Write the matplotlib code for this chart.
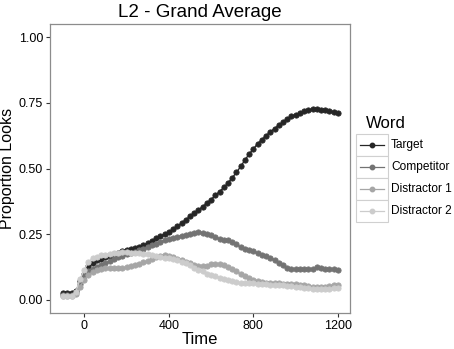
import matplotlib
matplotlib.use('Agg')
import matplotlib.pyplot as plt
from matplotlib.lines import Line2D
from matplotlib.patches import Rectangle

plt.rcParams['font.family'] = ['Liberation Sans', 'DejaVu Sans']

time = list(range(-100, 1201, 20))

target = [0.028, 0.028, 0.028, 0.032, 0.070, 0.100, 0.128, 0.140, 0.150, 0.156,
          0.162, 0.168, 0.174, 0.180, 0.186, 0.190, 0.195, 0.198, 0.202, 0.208,
          0.215, 0.225, 0.235, 0.242, 0.250, 0.258, 0.268, 0.280, 0.292, 0.305,
          0.318, 0.330, 0.342, 0.355, 0.368, 0.382, 0.398, 0.412, 0.428, 0.445,
          0.465, 0.485, 0.508, 0.532, 0.555, 0.575, 0.594, 0.610, 0.625, 0.640,
          0.652, 0.665, 0.677, 0.688, 0.698, 0.705, 0.712, 0.717, 0.722, 0.726,
          0.727, 0.724, 0.721, 0.718, 0.715, 0.712]

competitor = [0.020, 0.020, 0.020, 0.030, 0.060, 0.090, 0.108, 0.118, 0.126, 0.133,
              0.140, 0.147, 0.155, 0.162, 0.168, 0.173, 0.178, 0.183, 0.188, 0.194,
              0.200, 0.207, 0.214, 0.220, 0.227, 0.233, 0.237, 0.241, 0.244, 0.248,
              0.252, 0.256, 0.258, 0.256, 0.250, 0.245, 0.238, 0.232, 0.228, 0.226,
              0.222, 0.212, 0.200, 0.195, 0.190, 0.185, 0.178, 0.172, 0.167, 0.160,
              0.152, 0.142, 0.132, 0.122, 0.118, 0.117, 0.117, 0.117, 0.117, 0.118,
              0.124, 0.121, 0.119, 0.117, 0.116, 0.115]

distractor1 = [0.015, 0.015, 0.015, 0.022, 0.050, 0.076, 0.095, 0.105, 0.112, 0.117,
               0.120, 0.121, 0.121, 0.120, 0.121, 0.124, 0.128, 0.133, 0.138, 0.143,
               0.148, 0.155, 0.162, 0.167, 0.170, 0.168, 0.162, 0.155, 0.150, 0.145,
               0.140, 0.134, 0.130, 0.127, 0.130, 0.135, 0.137, 0.135, 0.132, 0.125,
               0.117, 0.108, 0.098, 0.090, 0.082, 0.075, 0.070, 0.067, 0.065, 0.064,
               0.063, 0.063, 0.062, 0.062, 0.061, 0.060, 0.058, 0.056, 0.053, 0.050,
               0.050, 0.048, 0.050, 0.053, 0.056, 0.057]

distractor2 = [0.015, 0.015, 0.015, 0.030, 0.080, 0.114, 0.145, 0.158, 0.165, 0.169,
               0.172, 0.175, 0.178, 0.180, 0.181, 0.181, 0.180, 0.179, 0.178, 0.176,
               0.173, 0.170, 0.166, 0.163, 0.161, 0.159, 0.155, 0.150, 0.146, 0.140,
               0.132, 0.122, 0.115, 0.108, 0.100, 0.095, 0.090, 0.085, 0.080, 0.075,
               0.070, 0.067, 0.065, 0.064, 0.063, 0.063, 0.062, 0.061, 0.060, 0.058,
               0.057, 0.056, 0.055, 0.053, 0.051, 0.050, 0.048, 0.046, 0.044, 0.042,
               0.040, 0.040, 0.040, 0.042, 0.044, 0.045]

words = ['Target', 'Competitor', 'Distractor 1', 'Distractor 2']
series = [target, competitor, distractor1, distractor2]
colors = ['#262626', '#737373', '#a6a6a6', '#cccccc']

W, H = 454, 349
fig = plt.figure(figsize=(W / 100, H / 100), dpi=100)
ax = fig.add_axes([50 / W, 1 - 313 / H, 300 / W, 289 / H])

for vals, col in zip(series, colors):
    ax.plot(time, vals, color=col, lw=1.0, marker='o', ms=3.8,
            markeredgewidth=0.6, markeredgecolor=col)

ax.set_xlim(-162, 1257)
ax.set_ylim(-0.05, 1.05)
ax.set_xticks([0, 400, 800, 1200])
ax.set_yticks([0, 0.25, 0.5, 0.75, 1.0])
ax.set_yticklabels(['0.00', '0.25', '0.50', '0.75', '1.00'])
ax.tick_params(length=3, width=0.8, color='#333333', labelsize=9, labelcolor='black', pad=2)
for s in ax.spines.values():
    s.set_color('#8c8c8c')
    s.set_linewidth(0.9)

ax.set_xlabel('Time', fontsize=12, labelpad=0)
ax.set_ylabel('Proportion Looks', fontsize=11.5, labelpad=3)
ax.set_title('L2 - Grand Average', fontsize=13.5, pad=5)

# legend
fig.text(366 / W, 1 - 123 / H, 'Word', fontsize=12, va='center', ha='left')
for i, (w, col) in enumerate(zip(words, colors)):
    yc = 145 + 22 * i
    fig.add_artist(Rectangle((356 / W, 1 - (yc + 11) / H), 32 / W, 22 / H,
                             transform=fig.transFigure, facecolor='white',
                             edgecolor='#d0d0d0', lw=0.8))
    fig.add_artist(Line2D([360 / W, 384 / W], [1 - yc / H, 1 - yc / H],
                          transform=fig.transFigure, color=col, lw=0.9,
                          marker=None))
    fig.add_artist(Line2D([372 / W], [1 - yc / H], transform=fig.transFigure,
                          color=col, marker='o', ms=3.2, lw=0))
    fig.text(391 / W, 1 - yc / H, w, fontsize=8.6, va='center', ha='left')

fig.savefig('out.png', dpi=100)
